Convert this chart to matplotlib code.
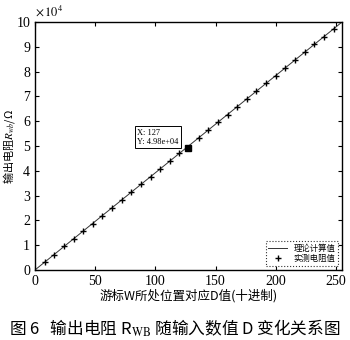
import matplotlib
matplotlib.use("Agg")
import matplotlib.pyplot as plt
import numpy as np

plt.rcParams['font.family'] = ['Liberation Serif', 'Noto Sans CJK SC', 'DejaVu Sans']
plt.rcParams['mathtext.fontset'] = 'stix'

# theoretical line (D, R in ohm)
theory_d = [0, 255]
theory_r = [0, 100000]

# measured points
meas_d = [8, 16, 24, 32, 40, 48, 56, 64, 72, 80, 88, 96, 104, 112, 120, 127,
          136, 144, 152, 160, 168, 176, 184, 192, 200, 208, 216, 224, 232, 240, 248]
meas_r = [3300, 6150, 9500, 12400, 15600, 18700, 21900, 24900, 28300, 31300,
          34600, 37700, 40800, 44000, 47100, 49020, 53300, 56400, 59700, 62700,
          65900, 69100, 72200, 75300, 78400, 81600, 84700, 87900, 91000, 94100, 97300]

tip_x = 127
tip_y = 49020

fig = plt.figure(figsize=(3.5, 3.4), dpi=100)
ax = fig.add_axes([0.10, 0.206, 0.877, 0.729])

ax.plot(theory_d, theory_r, '-', color='#333333', lw=0.7, label='理论计算值')
ax.plot(meas_d, meas_r, '+', color='black', ms=4, mew=1.0, ls='none', label='实测电阻值')
ax.plot([tip_x], [tip_y], 's', color='black', ms=4)

ax.set_xlim(0, 255)
ax.set_ylim(0, 100000)
ax.set_xticks([0, 50, 100, 150, 200, 250])
ax.set_yticks(np.arange(0, 100001, 10000))
ax.set_yticklabels([str(v) for v in range(0, 11)])
ax.tick_params(direction='in', top=True, right=True, labelsize=10, length=3, width=0.8)
for s in ax.spines.values():
    s.set_linewidth(1.0)

ax.text(0.0, 1.015, r'$\times\,10^4$', transform=ax.transAxes, fontsize=9, ha='left', va='bottom')

ax.text(85, 50200, 'X: 127\nY: 4.98e+04', fontsize=6, family=['Liberation Serif'],
        ha='left', va='bottom', linespacing=1.1,
        bbox=dict(boxstyle='square,pad=0.3', fc='white', ec='black', lw=0.7))

ax.set_ylabel('输出电阻$R_{wb}$/Ω', fontsize=8, family=['Noto Sans CJK SC', 'DejaVu Sans'])
ax.yaxis.set_label_coords(-0.058, 0.5)
ax.set_xlabel('游标W所处位置对应D值(十进制)', fontsize=9, family=['Noto Sans CJK SC', 'DejaVu Sans'], labelpad=1)

leg = ax.legend(loc='lower right', prop={'family': ['Noto Sans CJK SC', 'DejaVu Sans'], 'size': 6},
                frameon=True, fancybox=False, borderpad=0.3, handlelength=2.2, labelspacing=0.2)
leg.get_frame().set_edgecolor('black')
leg.get_frame().set_linestyle(':')
leg.get_frame().set_linewidth(0.8)

fig.text(0.5, 0.035, '图 6   输出电阻 R$_{\\rm WB}$ 随输入数值 D 变化关系图', ha='center', va='center',
         fontsize=12, family=['Noto Sans CJK SC', 'DejaVu Sans'])

fig.savefig('out.png', dpi=100, facecolor='white')
